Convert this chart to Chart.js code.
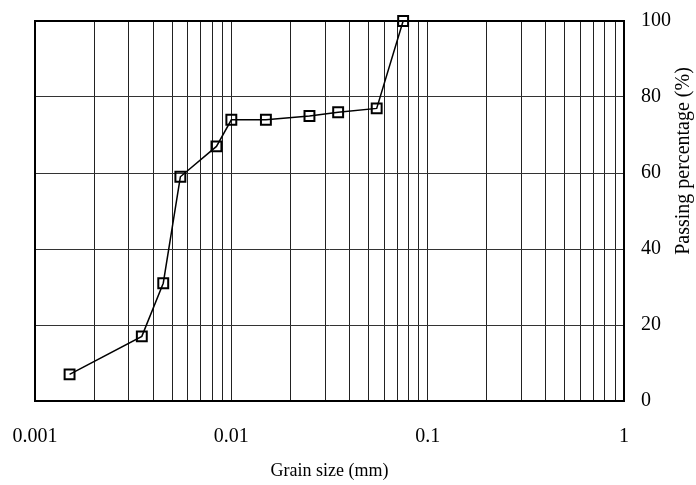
<!DOCTYPE html>
<html>
<head>
<meta charset="utf-8">
<title>Grain size distribution</title>
<script src="https://cdn.jsdelivr.net/npm/chart.js@4/dist/chart.umd.min.js"></script>
<style>
  html, body { margin: 0; padding: 0; background: #fff; }
  canvas { display: block; }
</style>
</head>
<body>
<canvas id="gradeCanvas" width="696" height="485"></canvas>
<script>
// grain size curve, sieve + hydrometer readings
var grainSize = [0.0015, 0.0035, 0.0045, 0.0055, 0.0084, 0.01, 0.015, 0.025, 0.035, 0.055, 0.075];
var passing = [7, 17, 31, 59, 67, 74, 74, 75, 76, 77, 100];

var xDecades = [0.001, 0.01, 0.1, 1];
var xTickLabels = ['0.001', '0.01', '0.1', '1'];
var xMinorSteps = [1, 2, 3, 4, 5, 6, 7, 8, 9];
var yTickValues = [0, 20, 40, 60, 80, 100];

var serif = '"Liberation Serif", "Times New Roman", serif';
Chart.defaults.font.family = serif;
Chart.defaults.color = '#000';

// frame round the plot, drawn under the markers
var frameBox = {
  id: 'frameBox',
  beforeDatasetsDraw: function(chart) {
    var a = chart.chartArea, ctx = chart.ctx;
    ctx.save();
    ctx.strokeStyle = '#000';
    ctx.lineWidth = 2;
    ctx.strokeRect(a.left, a.top, a.right - a.left, a.bottom - a.top);
    ctx.restore();
  }
};

// right axis title reads bottom to top
var yTitle = {
  id: 'yTitle',
  afterDraw: function(chart) {
    var a = chart.chartArea, ctx = chart.ctx;
    ctx.save();
    ctx.translate(a.right + 60, a.top + 140);
    ctx.rotate(-Math.PI / 2);
    ctx.font = '20px ' + serif;
    ctx.fillStyle = '#000';
    ctx.textAlign = 'center';
    ctx.textBaseline = 'middle';
    ctx.fillText('Passing percentage (%)', 0, 0);
    ctx.restore();
  }
};

var points = grainSize.map(function(g, i) { return { x: g, y: passing[i] }; });

new Chart(document.getElementById('gradeCanvas'), {
  type: 'line',
  data: {
    datasets: [{
      data: points,
      borderColor: '#000',
      borderWidth: 1.5,
      tension: 0,
      pointStyle: 'rect',
      pointRadius: 7,
      pointBorderWidth: 2,
      pointBorderColor: '#000',
      pointBackgroundColor: 'rgba(0,0,0,0)',
      clip: false
    }]
  },
  options: {
    responsive: false,
    animation: false,
    layout: { padding: { left: 35, top: 21, right: 0, bottom: 0 } },
    plugins: {
      legend: { display: false },
      tooltip: { enabled: false }
    },
    scales: {
      x: {
        type: 'logarithmic',
        position: 'bottom',
        min: 0.001,
        max: 1,
        afterBuildTicks: function(scale) {
          var t = [];
          xDecades.forEach(function(d, i) {
            if (i === xDecades.length - 1) {
              t.push({ value: d });
              return;
            }
            xMinorSteps.forEach(function(m) { t.push({ value: d * m }); });
          });
          scale.ticks = t;
        },
        afterFit: function(scale) {
          scale.height = 84;
          scale.paddingLeft = 0;
          scale.paddingRight = 0;
        },
        grid: { color: '#222', lineWidth: 1, drawTicks: false },
        border: { display: false },
        ticks: {
          autoSkip: false,
          maxRotation: 0,
          padding: 24,
          font: { size: 20 },
          callback: function(value) {
            for (var i = 0; i < xDecades.length; i++) {
              if (Math.abs(value / xDecades[i] - 1) < 1e-6) return xTickLabels[i];
            }
            return '';
          }
        },
        title: {
          display: true,
          text: 'Grain size (mm)',
          font: { size: 18 },
          padding: { top: 0, bottom: 3 }
        }
      },
      y: {
        position: 'right',
        min: 0,
        max: 100,
        afterBuildTicks: function(scale) {
          scale.ticks = yTickValues.map(function(v) { return { value: v }; });
        },
        afterFit: function(scale) {
          scale.width = 72;
          scale.paddingTop = 0;
          scale.paddingBottom = 0;
        },
        grid: { color: '#333', lineWidth: 1, drawTicks: false },
        border: { display: false },
        ticks: {
          padding: 17,
          font: { size: 20 }
        }
      }
    }
  },
  plugins: [frameBox, yTitle]
});
</script>
</body>
</html>
